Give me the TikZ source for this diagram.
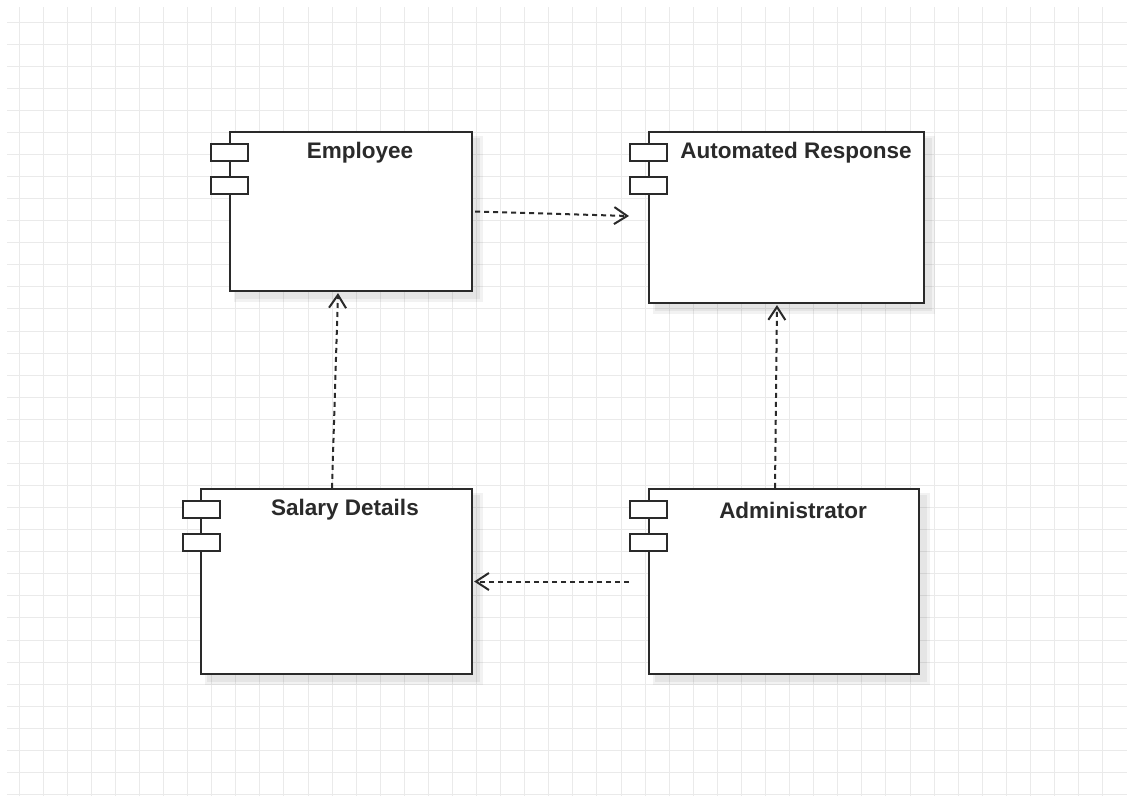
\documentclass[tikz,border=0pt]{standalone}
\usepackage{fontspec}
\setmainfont{Liberation Sans}
\usetikzlibrary{arrows.meta,calc}
\definecolor{gridc}{HTML}{EAEAEA}
\definecolor{ink}{HTML}{2A2A2A}
\tikzset{
  comp/.style={draw=ink, line width=2.2pt, fill=white, rectangle, inner sep=0pt},
  icon/.style={draw=ink, line width=2pt, fill=white, rectangle, inner sep=0pt, minimum width=37pt, minimum height=17pt},
  title/.style={font=\fontsize{22.5}{26}\selectfont\bfseries, text=ink, inner sep=0pt},
  dep/.style={draw=ink, line width=2pt, dash pattern=on 5pt off 4pt,
     -{Straight Barb[length=13pt,width=17pt,line width=2pt]}},
  shade/.style={fill=black, fill opacity=0.05, draw=none}
}
\begin{document}
\begin{tikzpicture}[x=1pt,y=-1pt]
\useasboundingbox (0,0) rectangle (1127,796);
\fill[white] (0,0) rectangle (1127,796);
% grid
\foreach \k in {0,...,45} {
  \draw[gridc, line width=0.9pt] ({19+24.08*\k},7) -- ({19+24.08*\k},796);
}
\foreach \k in {0,...,35} {
  \draw[gridc, line width=0.9pt] (7,{22+22.07*\k}) -- (1127,{22+22.07*\k});
}
% shadows
\foreach \a/\b/\c/\d in {230/132/472/291, 649/132/924/303, 201/489/472/674, 649/489/919/674} {
  \fill[shade] (\a+4,\b+4) rectangle (\c+11,\d+11);
  \fill[shade] (\a+6,\b+6) rectangle (\c+8,\d+8);
}
% components
\node[comp, minimum width=242pt, minimum height=159pt] (emp) at (351,211.5) {};
\node[comp, minimum width=275pt, minimum height=171pt] (aut) at (786.5,217.5) {};
\node[comp, minimum width=271pt, minimum height=185pt] (sal) at (336.5,581.5) {};
\node[comp, minimum width=270pt, minimum height=185pt] (adm) at (784,581.5) {};
% icons
\node[icon] (empa) at (229.5,152) {};
\node[icon] (empb) at (229.5,185) {};
\node[icon] (auta) at (648.5,152) {};
\node[icon] (autb) at (648.5,185) {};
\node[icon] (sala) at (201,509.5) {};
\node[icon] (salb) at (201,542.5) {};
\node[icon] (adma) at (648.5,509.5) {};
\node[icon] (admb) at (648.5,542.5) {};
% titles
\node[title] (empt) at (360,153) {Employee};
\node[title] (autt) at (796,153) {Automated Response};
\node[title] (salt) at (345,510) {Salary Details};
\node[title] (admt) at (793,510) {Administrator};
% dependencies
\draw[dep] ($(emp.east)+(2,0)$) -- ($(emp.east -| auta.west)+(0,4.5)$);
\draw[dep] ($(sal.north)+(-4.5,0)$) -- ($(emp.south)+(-13,1)$);
\draw[dep] ($(adm.north)+(-9,0)$) -- ($(aut.south)+(-9.5,1)$);
\draw[dep] (adm.west -| adma.west) -- ($(sal.east)+(1,0)$);
\end{tikzpicture}
\end{document}
